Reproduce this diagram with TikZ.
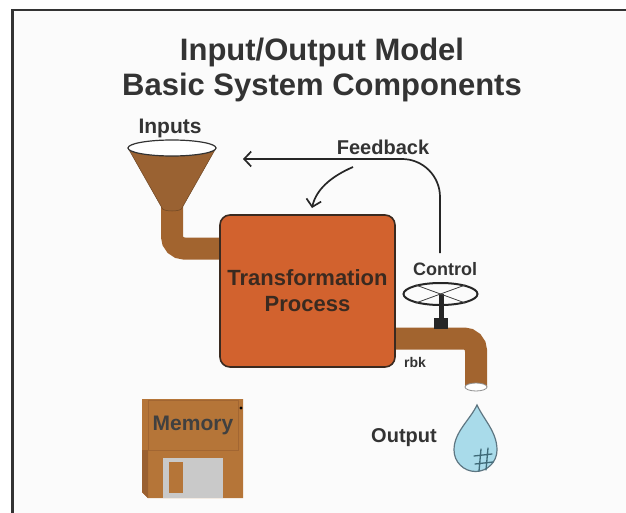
\documentclass[tikz,border=0pt]{standalone}
\usepackage{fontspec}
\setmainfont{Liberation Sans}
\usetikzlibrary{arrows.meta,shapes.geometric}
\definecolor{ink}{HTML}{333333}
\definecolor{pipebrown}{HTML}{A2642F}
\definecolor{funnelbrown}{HTML}{9A6232}
\definecolor{procorange}{HTML}{D2622E}
\definecolor{procedge}{HTML}{3A2A20}
\definecolor{diskbrown}{HTML}{B57538}
\definecolor{diskedge}{HTML}{9A6030}
\definecolor{shutter}{HTML}{C9C9C9}
\definecolor{dropblue}{HTML}{A9DBEA}
\definecolor{dropedge}{HTML}{5E7682}
\definecolor{hashteal}{HTML}{3F6A78}
\tikzset{
  lbl/.style={font=\bfseries\fontsize{#1}{#1}\selectfont, text=ink, inner sep=0pt},
  pipe/.style={draw=pipebrown, line width=22pt, rounded corners=12pt},
  flowarrow/.style={draw=black!85, line width=1.7pt, -{Straight Barb[length=7pt,width=15pt,line width=1.7pt]}},
}
\begin{document}
\begin{tikzpicture}[x=1pt,y=-1pt]
\useasboundingbox (0,0) rectangle (626,513);
% sheet with frame on the top and left edges
\fill[white] (0,0) rectangle (626,513);
\fill[black!1.5] (13,10) rectangle (626,513);
\draw[ink, line width=2.5pt] (12.5,513) -- (12.5,10) -- (626,10);

% title
\node[lbl=31] (title1) at (322,52) {Input/Output Model};
\node[lbl=31] (title2) at (322,87) {Basic System Components};

% intake pipe and funnel
\coordinate (inpipeTop) at (172,200);
\coordinate (inpipeEnd) at (228,248.5);
\draw[pipe] (inpipeTop) -- (172,248.5) -- (inpipeEnd);
\fill[funnelbrown, draw=funnelbrown!70!black, line width=0.5pt]
  (128,148) -- (162,208) arc (180:0:10 and 3) -- (216,148) -- cycle;
\node[draw=black!80, fill=white, line width=1.2pt, ellipse, minimum width=88pt, minimum height=16pt, inner sep=0pt] (funnel) at (172,148) {};
\node[lbl=21] (inputs) at (170,128) {Inputs};

% outlet pipe
\coordinate (outpipeStart) at (385,338.5);
\coordinate (outpipeEnd) at (476,387);
\draw[pipe] (outpipeStart) -- (476,338.5) -- (outpipeEnd);
\node[draw=black!45, fill=white, line width=0.8pt, ellipse, minimum width=22pt, minimum height=8pt, inner sep=0pt] (spout) at (476,387) {};

% transformation process
\node[draw=procedge, fill=procorange, line width=1.6pt, rounded corners=10pt,
      minimum width=175pt, minimum height=152pt, inner sep=0pt,
      align=center, lbl=22, text=procedge] (process) at (307.5,291)
      {Transformation\\[4pt]Process};

% control valve
\node[lbl=18] (control) at (445,269) {Control};
\fill[black!85] (434,318) rectangle (448,329);
\draw[black!85, line width=5pt] (441,294) -- (441,320);
\node[draw=black!85, line width=2pt, ellipse, minimum width=74pt, minimum height=22pt, inner sep=0pt] (wheel) at (440.5,294) {};
\draw[black!75, line width=0.8pt] (wheel.160) -- (wheel.340);
\draw[black!75, line width=0.8pt] (wheel.200) -- (wheel.20);
\node[lbl=14] (rbk) at (415,362) {rbk};

% feedback loop
\coordinate (fbStart) at (440,253);
\coordinate (fbEnd) at (243,159);
\draw[flowarrow, rounded corners=38pt] (fbStart) -- (440,159) -- (fbEnd);
\coordinate (fbCurveStart) at (353,167);
\coordinate (fbCurveEnd) at (312,208);
\draw[flowarrow] (fbCurveStart) .. controls (330,177) and (316,190) .. (fbCurveEnd);
\node[lbl=20] (feedback) at (383,147) {Feedback};

% output drop
\node[lbl=20] (output) at (404,438) {Output};
\draw[fill=dropblue, draw=dropedge, line width=1.2pt]
  (477,405) .. controls (470,420) and (454,432) .. (454,450)
  arc (180:0:21.5) .. controls (497,432) and (484,420) .. cycle;
\draw[hashteal, line width=1.3pt, line cap=round]
  (474,456) -- (492,454) (475,464) -- (493,462)
  (481,449) -- (479,471) (488,448) -- (486,470);

% memory disk
\fill[diskbrown] (142,399) -- (243,399) -- (243,498) -- (148,498) -- (142,492) -- cycle;
\fill[diskedge] (142,450) -- (148,450) -- (148,498) -- (142,492) -- cycle;
\draw[diskedge!70!diskbrown, line width=0.8pt] (148,400) rectangle (238,450);
\fill[shutter] (163,458) rectangle (223,498);
\fill[diskbrown] (169,462) rectangle (183,493);
\fill[black] (241,408) circle (1.6pt);
\node[lbl=21, text=black!75] (memory) at (193,425) {Memory};
\end{tikzpicture}
\end{document}
